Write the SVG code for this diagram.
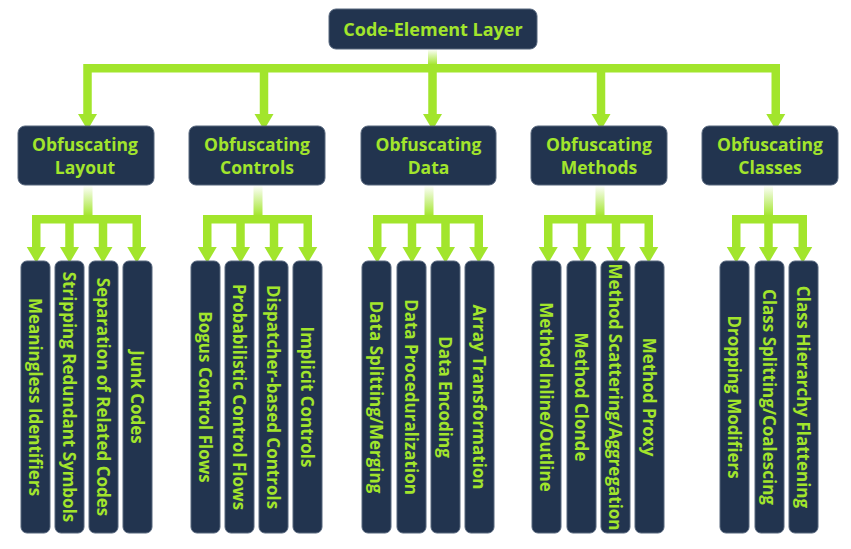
<svg xmlns="http://www.w3.org/2000/svg" width="851" height="549" viewBox="0 0 851 549">
<defs>
<style>
.box{fill:#22344f;stroke:#56667d;stroke-width:1}
.hd{font-family:"Open Sans","Noto Sans","DejaVu Sans",sans-serif;font-weight:700;fill:#a2e52c;text-anchor:middle}
.lf{font-family:"Open Sans","Noto Sans","DejaVu Sans",sans-serif;font-weight:700;font-size:17px;fill:#a2e52c;text-anchor:middle;dominant-baseline:central}
.ln{fill:none;stroke:#a2e52c;stroke-width:8.5;stroke-linejoin:miter;stroke-linecap:butt}
.ah{fill:#a2e52c}
</style>
<linearGradient id="fade" x1="0" y1="0" x2="0" y2="1">
<stop offset="0" stop-color="#ffffff"/>
<stop offset="1" stop-color="#a2e52c"/>
</linearGradient>
<path id="head" d="M-9.5,0 H9.5 L0,16 Z"/>
</defs>
<rect width="851" height="549" fill="#ffffff"/>

<g id="connectors">
<rect x="428" y="49" width="9" height="16" fill="url(#fade)"/>
<path class="ln" d="M87.5,115 V68.25 H775.75 V115 M264,68 V115 M432.5,68 V115 M601,68 V115"/>
<use href="#head" class="ah" x="87.5" y="114"/>
<use href="#head" class="ah" x="264" y="114"/>
<use href="#head" class="ah" x="432.5" y="114"/>
<use href="#head" class="ah" x="601" y="114"/>
<use href="#head" class="ah" x="775.75" y="114"/>
<rect x="83.5" y="185" width="9" height="31" fill="url(#fade)"/>
<path class="ln" d="M36.25,248 V219.25 H136.75 V248 M69.5,219 V248 M103,219 V248"/>
<use href="#head" class="ah" x="36.25" y="247"/>
<use href="#head" class="ah" x="69.5" y="247"/>
<use href="#head" class="ah" x="103" y="247"/>
<use href="#head" class="ah" x="136.75" y="247"/>
<rect x="253.5" y="185" width="9" height="31" fill="url(#fade)"/>
<path class="ln" d="M207.25,248 V219.25 H307.75 V248 M240.5,219 V248 M274,219 V248"/>
<use href="#head" class="ah" x="207.25" y="247"/>
<use href="#head" class="ah" x="240.5" y="247"/>
<use href="#head" class="ah" x="274" y="247"/>
<use href="#head" class="ah" x="307.75" y="247"/>
<rect x="424.5" y="185" width="9" height="31" fill="url(#fade)"/>
<path class="ln" d="M377.25,248 V219.25 H478.75 V248 M412,219 V248 M445.5,219 V248"/>
<use href="#head" class="ah" x="377.25" y="247"/>
<use href="#head" class="ah" x="412" y="247"/>
<use href="#head" class="ah" x="445.5" y="247"/>
<use href="#head" class="ah" x="478.75" y="247"/>
<rect x="595.5" y="185" width="9" height="31" fill="url(#fade)"/>
<path class="ln" d="M548.25,248 V219.25 H648.75 V248 M582,219 V248 M616,219 V248"/>
<use href="#head" class="ah" x="548.25" y="247"/>
<use href="#head" class="ah" x="582" y="247"/>
<use href="#head" class="ah" x="616" y="247"/>
<use href="#head" class="ah" x="648.75" y="247"/>
<rect x="764" y="185" width="9" height="31" fill="url(#fade)"/>
<path class="ln" d="M736.25,248 V219.25 H802.75 V248 M768.5,219 V248"/>
<use href="#head" class="ah" x="736.25" y="247"/>
<use href="#head" class="ah" x="768.5" y="247"/>
<use href="#head" class="ah" x="802.75" y="247"/>
</g>

<g id="root">
<rect class="box" x="329" y="9" width="208" height="40" rx="7"/>
<text class="hd" x="433" y="35.5" font-size="18">Code-Element Layer</text>
</g>

<g id="layout">
<rect class="box" x="18" y="126" width="136" height="59" rx="7"/>
<text class="hd" x="85" y="151" font-size="17.5">Obfuscating</text>
<text class="hd" x="85" y="174" font-size="17.5">Layout</text>
</g>
<g id="controls">
<rect class="box" x="189" y="126" width="136" height="59" rx="7"/>
<text class="hd" x="257" y="151" font-size="17.5">Obfuscating</text>
<text class="hd" x="257" y="174" font-size="17.5">Controls</text>
</g>
<g id="data">
<rect class="box" x="361" y="126" width="135" height="59" rx="7"/>
<text class="hd" x="428.5" y="151" font-size="17.5">Obfuscating</text>
<text class="hd" x="428.5" y="174" font-size="17.5">Data</text>
</g>
<g id="methods">
<rect class="box" x="531" y="126" width="136" height="59" rx="7"/>
<text class="hd" x="599" y="151" font-size="17.5">Obfuscating</text>
<text class="hd" x="599" y="174" font-size="17.5">Methods</text>
</g>
<g id="classes">
<rect class="box" x="702" y="126" width="136" height="59" rx="7"/>
<text class="hd" x="770" y="151" font-size="17.5">Obfuscating</text>
<text class="hd" x="770" y="174" font-size="17.5">Classes</text>
</g>

<g id="leaf-meaningless"><rect class="box" x="21" y="261" width="29" height="272" rx="6"/><text class="lf" transform="translate(35.5,397) rotate(90)">Meaningless Identifiers</text></g>
<g id="leaf-stripping"><rect class="box" x="55" y="261" width="29" height="272" rx="6"/><text class="lf" transform="translate(69.5,397) rotate(90)">Stripping Redundant Symbols</text></g>
<g id="leaf-separation"><rect class="box" x="89" y="261" width="29" height="272" rx="6"/><text class="lf" transform="translate(103.5,397) rotate(90)">Separation of Related Codes</text></g>
<g id="leaf-junk"><rect class="box" x="123" y="261" width="29" height="272" rx="6"/><text class="lf" transform="translate(137.5,397) rotate(90)">Junk Codes</text></g>

<g id="leaf-bogus"><rect class="box" x="191" y="261" width="29" height="272" rx="6"/><text class="lf" transform="translate(205.5,397) rotate(90)">Bogus Control Flows</text></g>
<g id="leaf-probabilistic"><rect class="box" x="225" y="261" width="29" height="272" rx="6"/><text class="lf" transform="translate(239.5,397) rotate(90)">Probabilistic Control Flows</text></g>
<g id="leaf-dispatcher"><rect class="box" x="259" y="261" width="29" height="272" rx="6"/><text class="lf" transform="translate(273.5,397) rotate(90)">Dispatcher-based Controls</text></g>
<g id="leaf-implicit"><rect class="box" x="293" y="261" width="29" height="272" rx="6"/><text class="lf" transform="translate(307.5,397) rotate(90)">Implicit Controls</text></g>

<g id="leaf-datasplit"><rect class="box" x="362" y="261" width="29" height="272" rx="6"/><text class="lf" transform="translate(376.5,397) rotate(90)">Data Splitting/Merging</text></g>
<g id="leaf-dataproc"><rect class="box" x="397" y="261" width="29" height="272" rx="6"/><text class="lf" transform="translate(411.5,397) rotate(90)">Data Proceduralization</text></g>
<g id="leaf-dataenc"><rect class="box" x="431" y="261" width="29" height="272" rx="6"/><text class="lf" transform="translate(445.5,397) rotate(90)">Data Encoding</text></g>
<g id="leaf-array"><rect class="box" x="465" y="261" width="29" height="272" rx="6"/><text class="lf" transform="translate(479.5,397) rotate(90)">Array Transformation</text></g>

<g id="leaf-inline"><rect class="box" x="532" y="261" width="29" height="272" rx="6"/><text class="lf" transform="translate(546.5,397) rotate(90)">Method Inline/Outline</text></g>
<g id="leaf-clonde"><rect class="box" x="567" y="261" width="29" height="272" rx="6"/><text class="lf" transform="translate(581.5,397) rotate(90)">Method Clonde</text></g>
<g id="leaf-scatter"><rect class="box" x="601" y="261" width="29" height="272" rx="6"/><text class="lf" transform="translate(615.5,397) rotate(90)">Method Scattering/Aggregation</text></g>
<g id="leaf-proxy"><rect class="box" x="635" y="261" width="29" height="272" rx="6"/><text class="lf" transform="translate(649.5,397) rotate(90)">Method Proxy</text></g>

<g id="leaf-dropping"><rect class="box" x="720" y="261" width="29" height="272" rx="6"/><text class="lf" transform="translate(734.5,397) rotate(90)">Dropping Modifiers</text></g>
<g id="leaf-classsplit"><rect class="box" x="755" y="261" width="29" height="272" rx="6"/><text class="lf" transform="translate(769.5,397) rotate(90)">Class Splitting/Coalescing</text></g>
<g id="leaf-flatten"><rect class="box" x="789" y="261" width="29" height="272" rx="6"/><text class="lf" transform="translate(803.5,397) rotate(90)">Class Hierarchy Flattening</text></g>
</svg>
